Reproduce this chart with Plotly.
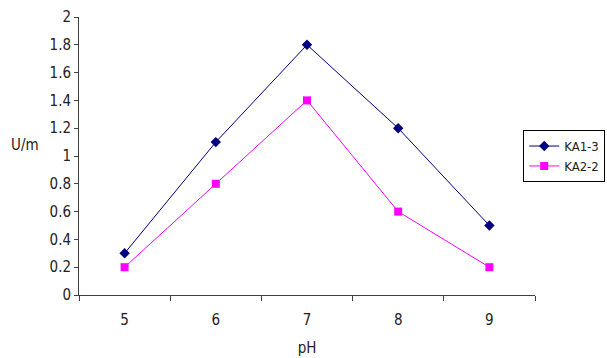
import plotly.graph_objects as go

ph = ["5", "6", "7", "8", "9"]
ka1_3 = [0.3, 1.1, 1.8, 1.2, 0.5]
ka2_2 = [0.2, 0.8, 1.4, 0.6, 0.2]
y_ticks = [0, 0.2, 0.4, 0.6, 0.8, 1, 1.2, 1.4, 1.6, 1.8, 2]

fig = go.Figure()
fig.add_trace(go.Scatter(x=ph, y=ka1_3, name="KA1-3", mode="lines+markers",
                         line=dict(color="#000080", width=1),
                         marker=dict(symbol="diamond", size=8, color="#000080")))
fig.add_trace(go.Scatter(x=ph, y=ka2_2, name="KA2-2", mode="lines+markers",
                         line=dict(color="#FF00FF", width=1),
                         marker=dict(symbol="square", size=8, color="#FF00FF")))

fam = "Liberation Sans Narrow, DejaVu Sans Condensed, Arial Narrow, sans-serif"
font = dict(family=fam, size=15, color="#222222")
fig.update_layout(
    width=607, height=358,
    margin=dict(l=79, r=72, t=17, b=63, autoexpand=False),
    paper_bgcolor="white", plot_bgcolor="white",
    font=font,
    showlegend=True,
    legend=dict(xref="container", yref="container", x=0.862, y=0.564,
                xanchor="left", yanchor="middle",
                bordercolor="#000000", borderwidth=1, bgcolor="white",
                font=dict(size=13), tracegroupgap=0),
    xaxis=dict(type="category", range=[-0.5, 4.5], tickson="boundaries",
               ticks="outside", ticklen=5, tickcolor="#404040",
               showline=True, linecolor="#404040", linewidth=1,
               showgrid=False, zeroline=False, ticklabelstandoff=11,
               title=dict(text="pH", standoff=14, font=dict(size=15))),
    yaxis=dict(range=[0, 2], tickvals=y_ticks,
               ticktext=[str(v) for v in y_ticks],
               ticks="outside", ticklen=4, tickcolor="#404040",
               showline=True, linecolor="#404040", linewidth=1,
               showgrid=False, zeroline=False),
    annotations=[dict(text="U/m", xref="paper", yref="paper",
                      x=-0.118, y=0.54, xanchor="center", yanchor="middle",
                      showarrow=False, font=dict(size=15))],
)
fig.write_html("out.html")
